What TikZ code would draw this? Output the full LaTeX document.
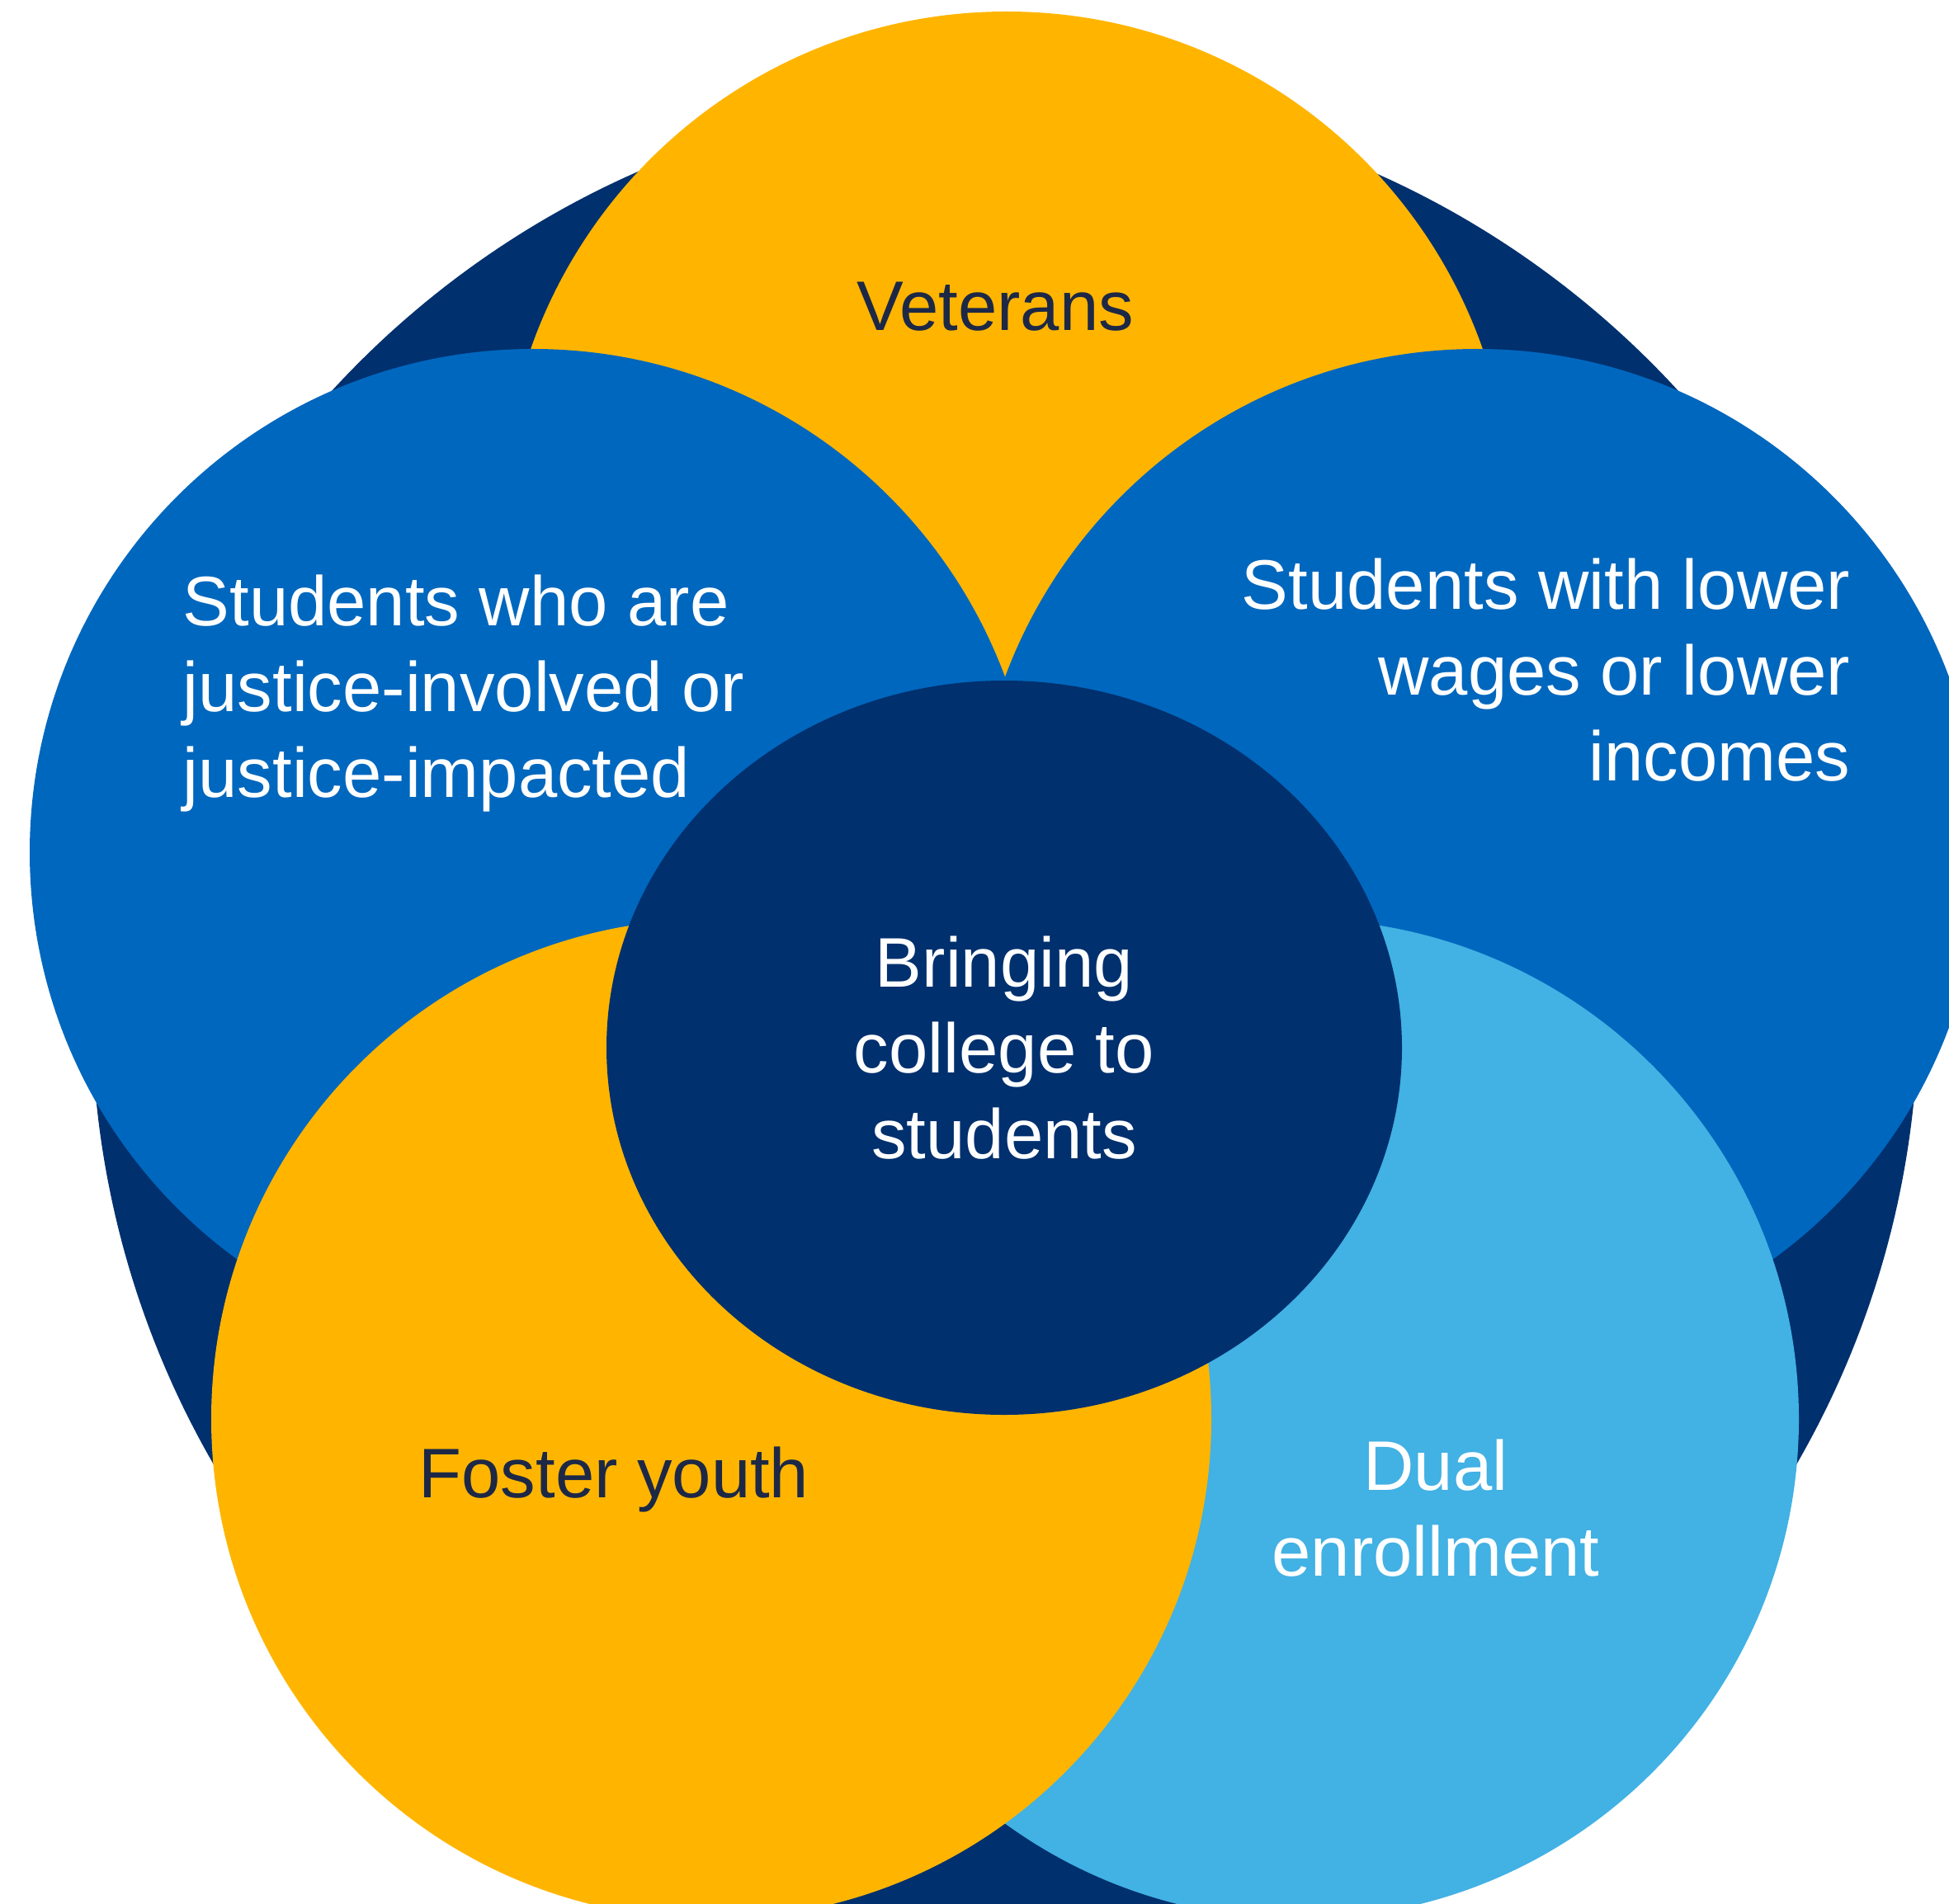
\documentclass[tikz,border=0pt]{standalone}
\usepackage{fontspec}
\setmainfont{Liberation Sans}
\definecolor{navy}{RGB}{0,48,110}
\definecolor{midblue}{RGB}{0,103,190}
\definecolor{gold}{RGB}{255,181,0}
\definecolor{skyblue}{RGB}{66,177,228}
\definecolor{ink}{RGB}{28,40,70}

\begin{document}
\begin{tikzpicture}[
        txt/.style={font=\fontsize{24.2}{29.5}\selectfont, inner sep=0pt},
        darktxt/.style={txt, text=ink},
        lighttxt/.style={txt, text=white}]
        \useasboundingbox (0,0) rectangle (23.62,-23.07);
        \clip (0,0) rectangle (23.62,-23.07);
        % backdrop
        \fill[navy] (12.18,-12.22) circle (11.07);
        % outer ring, back to front
        \fill[gold] (12.20,-6.25) circle (6.11);
        \fill[midblue] (6.46,-10.33) circle (6.10);
        \fill[midblue] (17.90,-10.33) circle (6.10);
        \fill[skyblue] (15.74,-17.20) circle (6.06);
        \fill[gold] (8.62,-17.20) circle (6.06);
        % hub
        \fill[navy] (12.17,-12.70) ellipse (4.82 and 4.45);
        % labels (base = last line)
        \node[darktxt, anchor=base] (vet) at (12.06,-4.01) {Veterans};
        \node[lighttxt, anchor=base west, align=left] (justice) at (2.21,-9.66)
            {Students who are\\justice-involved or\\justice-impacted};
        \node[lighttxt, anchor=base east, align=right] (wages) at (22.43,-9.46)
            {Students with lower\\wages or lower\\incomes};
        \node[lighttxt, anchor=base, align=center] (hub) at (12.17,-14.04)
            {Bringing\\college to\\students};
        \node[darktxt, anchor=base] (foster) at (7.44,-18.15) {Foster youth};
        \node[lighttxt, anchor=base, align=center] (dual) at (17.40,-19.10)
            {Dual\\enrollment};
\end{tikzpicture}
\end{document}
